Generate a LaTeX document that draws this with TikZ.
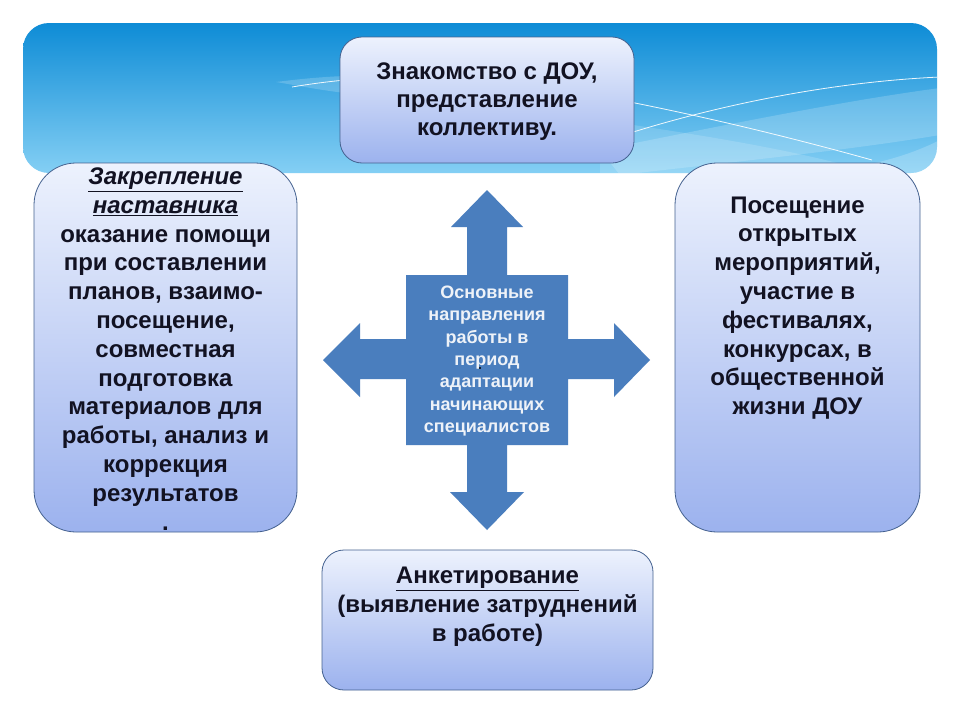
\documentclass[tikz,border=0pt]{standalone}
\usepackage{fontspec}
\setmainfont{Liberation Sans}
\usetikzlibrary{calc}
\definecolor{bannertop}{HTML}{0E8CD6}
\definecolor{bannerbot}{HTML}{84CFF4}
\definecolor{boxtop}{HTML}{EDF2FD}
\definecolor{boxbot}{HTML}{9CB2EE}
\definecolor{boxline}{HTML}{44618F}
\definecolor{crossblue}{HTML}{4A7EBE}
\definecolor{txt}{HTML}{121222}
\definecolor{ctxt}{HTML}{EEF2F8}
\tikzset{
  panel/.style={draw=boxline, line width=0.8pt, top color=boxtop, bottom color=boxbot, inner sep=0pt},
  bigtext/.style={text=txt, align=center, inner sep=0pt, font=\fontsize{24}{28.8}\selectfont\bfseries},
  centertext/.style={text=ctxt, align=center, inner sep=0pt, font=\fontsize{18}{22.4}\selectfont\bfseries},
  waveline/.style={draw=white, line width=0.8pt, opacity=0.9},
}
\begin{document}
\begin{tikzpicture}[x=1pt,y=-1pt]
\useasboundingbox (0,0) rectangle (960,720);
\fill[white] (0,0) rectangle (960,720);
% banner
\shade[top color=bannertop, bottom color=bannerbot, rounded corners=26pt] (23,23) rectangle (937,173);
\begin{scope}
  \clip[rounded corners=26pt] (23,23) rectangle (937,173);
  \fill[white, opacity=0.18] (600,150) .. controls (750,120) and (850,100) .. (940,88) -- (940,135) .. controls (850,150) and (750,160) .. (620,175) -- cycle;
  \fill[white, opacity=0.15] (600,120) .. controls (700,135) and (800,150) .. (880,175) -- (600,175) -- cycle;
  \fill[white, opacity=0.2] (940,140) .. controls (900,160) and (860,168) .. (800,175) -- (940,175) -- cycle;
  \fill[white, opacity=0.18] (276,82) .. controls (300,79) and (320,77) .. (345,76) -- (345,93) .. controls (320,90) and (300,86) .. cycle;
  \draw[waveline] (292,87) .. controls (310,84) and (325,82) .. (345,80);
  \draw[waveline] (630,102) .. controls (720,120) and (800,140) .. (872,160);
  \draw[waveline] (630,133) .. controls (720,105) and (830,82) .. (940,77);
\end{scope}
% boxes
\node[panel, rounded corners=22pt, minimum width=294pt, minimum height=126pt] (top) at (487,100) {};
\node[panel, rounded corners=42pt, minimum width=263pt, minimum height=369pt] (left) at (165.5,347.5) {};
\node[panel, rounded corners=42pt, minimum width=245pt, minimum height=369pt] (right) at (797.5,347.5) {};
\node[panel, rounded corners=22pt, minimum width=331pt, minimum height=140pt] (bottom) at (487.5,620) {};
% texts
\node[bigtext, font=\fontsize{24}{28}\selectfont\bfseries] (toptext) at (487,102) {Знакомство с ДОУ,\\представление\\коллективу.};
\node[bigtext] (lefttext) at (165.5,349) {\underline{\itshape Закрепление}\\\underline{\itshape наставника}\\оказание помощи\\при составлении\\планов, взаимо-\\посещение,\\совместная\\подготовка\\материалов для\\работы, анализ и\\коррекция\\результатов\\.};
\node[bigtext] (righttext) at (797.5,308) {Посещение\\открытых\\мероприятий,\\участие в\\фестивалях,\\конкурсах, в\\общественной\\жизни ДОУ};
\node[bigtext] (bottomtext) at (487.5,607) {\underline{Анкетирование}\\(выявление затруднений\\в работе)};
% cross
\fill[crossblue] (487,190) -- (523,227) -- (507,227) -- (507,275) -- (568,275) -- (568,339) -- (614,339) -- (614,323) -- (650,360) -- (614,397) -- (614,379) -- (568,379) -- (568,445) -- (507,445) -- (507,492) -- (524,492) -- (487,530) -- (450,492) -- (467,492) -- (467,445) -- (406,445) -- (406,379) -- (360,379) -- (360,397) -- (323,360) -- (360,323) -- (360,339) -- (406,339) -- (406,275) -- (467,275) -- (467,227) -- (451,227) -- cycle;
\node[centertext] (centertext) at (487,361) {Основные\\направления\\работы в\\период\\адаптации\\начинающих\\специалистов};
\fill[black] (480,368) circle (1.2pt);
\end{tikzpicture}
\end{document}
